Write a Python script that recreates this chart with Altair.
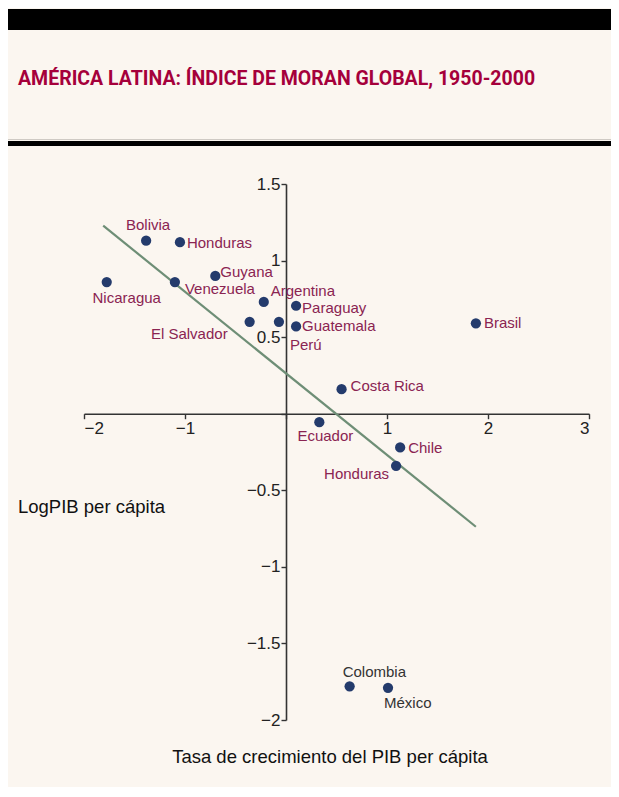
import altair as alt
import pandas as pd

# ---- data ----
countries = ["Bolivia", "Honduras", "Nicaragua", "Venezuela", "Guyana", "Argentina",
             "El Salvador", "Perú", "Paraguay", "Guatemala", "Brasil", "Costa Rica",
             "Ecuador", "Chile", "Honduras", "Colombia", "México"]
growth = [-1.385, -1.05, -1.775, -1.10, -0.70, -0.22,
          -0.36, -0.07, 0.10, 0.10, 1.88, 0.55,
          0.33, 1.13, 1.09, 0.63, 1.01]
log_pib = [1.13, 1.12, 0.86, 0.86, 0.90, 0.73,
           0.60, 0.60, 0.705, 0.57, 0.59, 0.16,
           -0.055, -0.22, -0.34, -1.78, -1.79]
label_group = ["red"] * 15 + ["gray"] * 2

fit_x = [-1.81, 1.88]
fit_y = [1.228, -0.738]

x_ticks = [-2, -1, 0, 1, 2, 3]
y_ticks = [-2, -1.5, -1, -0.5, 0, 0.5, 1, 1.5]

df = pd.DataFrame({"id": list(range(len(countries))), "pais": countries,
                   "x": growth, "y": log_pib, "grupo": label_group})
fit = pd.DataFrame({"x": fit_x, "y": fit_y})

# ---- styling / layout (not data) ----
W, H = 505, 536
TOTAL_W, TOTAL_H = 603, 779
PAD_L, PAD_T = 76, 176
BG = "#fbf6f0"
LABEL_RED = "#8a2452"
LABEL_GRAY = "#333333"
FONT = "Liberation Sans"
LABEL_PLACE = {
    0: ("center", 2, -16), 1: ("left", 7, 1), 2: ("center", 20, 16),
    3: ("left", 10, 7), 4: ("left", 5, -4), 5: ("left", 7, -11),
    6: ("right", -22, 12), 7: ("left", 11, 23), 8: ("left", 6, 2),
    9: ("left", 6, 0), 10: ("left", 8, 0), 11: ("left", 9, -3),
    12: ("center", 6, 14), 13: ("left", 8, 1), 14: ("right", -7, 8),
    15: ("left", -7, -14), 16: ("left", -4, 15),
}

xscale = alt.Scale(domain=[-2, 3], nice=False, zero=False)
yscale = alt.Scale(domain=[-2, 1.5], nice=False, zero=False)
y0_px = H * 1.5 / 3.5
x0_px = W * 2 / 5

axis_common = dict(grid=False, title=None, domainColor="#333333", domainWidth=1.6,
                   tickColor="#333333", tickWidth=1.4, tickSize=5, format="~g",
                   labelFontSize=17, labelColor="#222222", labelFont=FONT,
                   labelExpr="datum.value == 0 ? '' : datum.label")

xaxis = alt.Axis(values=x_ticks, offset=-(H - y0_px), labelPadding=2, **axis_common)
yaxis = alt.Axis(values=y_ticks, offset=-x0_px, labelPadding=1, **axis_common)

one = alt.Data(values=[{"a": 1}])
RIGHT = TOTAL_W - PAD_L

top_band = alt.Chart(one).mark_rect(color="black").encode(
    x=alt.value(-PAD_L), x2=alt.value(RIGHT), y=alt.value(-175), y2=alt.value(-154))
rule_band = alt.Chart(one).mark_rect(color="black").encode(
    x=alt.value(-PAD_L), x2=alt.value(RIGHT), y=alt.value(-43), y2=alt.value(-38))
thin_rule = alt.Chart(one).mark_rule(color="#cfcac4", strokeWidth=1).encode(
    x=alt.value(-PAD_L), x2=alt.value(RIGHT), y=alt.value(-44.5))
title_txt = alt.Chart(one).mark_text(
    text="AMÉRICA LATINA: ÍNDICE DE MORAN GLOBAL, 1950-2000",
    font="Roboto", fontWeight="bold", fontSize=19.5,
    color="#a5003b", align="left", baseline="alphabetic").encode(
    x=alt.value(-66), y=alt.value(-99))
ytitle = alt.Chart(one).mark_text(
    text="LogPIB per cápita", font=FONT, fontSize=18.5, color="#111111",
    align="left", baseline="middle").encode(x=alt.value(-66), y=alt.value(323))
xtitle = alt.Chart(one).mark_text(
    text="Tasa de crecimiento del PIB per cápita", font=FONT, fontSize=18.5,
    color="#111111", align="center", baseline="middle").encode(
    x=alt.value(246), y=alt.value(573))

line = alt.Chart(fit).mark_line(color="#6e8e76", strokeWidth=2.2).encode(
    x=alt.X("x:Q", scale=xscale, axis=xaxis),
    y=alt.Y("y:Q", scale=yscale, axis=yaxis))

points = alt.Chart(df).mark_circle(size=105, color="#243b6c", opacity=1).encode(
    x=alt.X("x:Q", scale=xscale), y=alt.Y("y:Q", scale=yscale))

label_layers = []
for i in range(len(countries)):
    align, dx, dy = LABEL_PLACE[i]
    color = LABEL_RED if label_group[i] == "red" else LABEL_GRAY
    label_layers.append(
        alt.Chart(df).transform_filter(alt.datum.id == i).mark_text(
            align=align, baseline="middle", dx=dx, dy=dy, font=FONT,
            fontSize=15, color=color).encode(
            x=alt.X("x:Q", scale=xscale), y=alt.Y("y:Q", scale=yscale),
            text="pais:N"))

chart = alt.layer(top_band, thin_rule, rule_band, title_txt, ytitle, xtitle, line,
                  points, *label_layers).properties(
    width=W, height=H,
    autosize=alt.AutoSizeParams(type="none"),
    padding={"left": PAD_L, "top": PAD_T, "right": TOTAL_W - PAD_L - W,
             "bottom": TOTAL_H - PAD_T - H},
    background=BG,
).configure_view(stroke=None)

chart.save("out.html", embed_options={"renderer": "svg", "actions": False})
